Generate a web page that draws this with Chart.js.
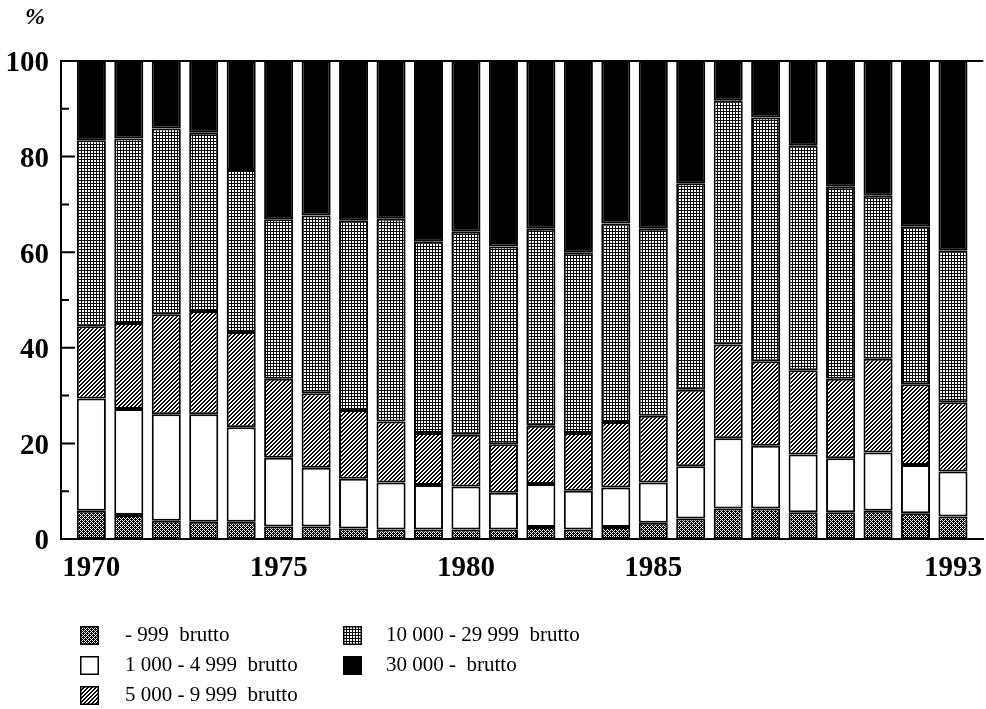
<!DOCTYPE html>
<html>
<head>
<meta charset="utf-8">
<script src="https://cdn.jsdelivr.net/npm/chart.js@4/dist/chart.umd.min.js"></script>
<style>
  html, body { margin: 0; padding: 0; background: #fff; }
  #wrap { position: relative; width: 986px; height: 709px; }
  #pct { position: absolute; left: 25px; top: 3px; font: italic bold 24px "Liberation Serif", serif; }
  .leg { position: absolute; font: 21px "Liberation Serif", serif; color: #000; white-space: pre; }
  .leg canvas { position: absolute; left: 0; top: 2px; }
  .leg span { position: absolute; top: -2px; }
</style>
</head>
<body>
<div id="wrap">
  <canvas id="bieudo"></canvas>
  <div id="pct">%</div>
</div>
<script>
// years on the x axis
const years = [1970, 1971, 1972, 1973, 1974, 1975, 1976, 1977, 1978, 1979, 1980, 1981,
               1982, 1983, 1984, 1985, 1986, 1987, 1988, 1989, 1990, 1991, 1992, 1993];
const xTickYears = [1970, 1975, 1980, 1985, 1993];

const seriesLabels = ['- 999  brutto', '1 000 - 4 999  brutto', '5 000 - 9 999  brutto',
                      '10 000 - 29 999  brutto', '30 000 -  brutto'];

// share (%) per size class
const upTo999 = [5.9, 5.0, 3.8, 3.6, 3.6, 2.6, 2.6, 2.2, 2.0, 2.0, 2.0, 2.0,
                 2.5, 2.0, 2.5, 3.4, 4.3, 6.4, 6.4, 5.6, 5.6, 5.9, 5.4, 4.7];
const from1000 = [23.5, 22.2, 22.3, 22.5, 19.8, 14.4, 12.3, 10.4, 9.8, 9.3, 9.0, 7.7,
                  9.0, 8.1, 8.3, 8.4, 10.9, 14.7, 13.1, 12.1, 11.3, 12.2, 10.1, 9.4];
const from5000 = [15.1, 18.0, 20.9, 21.6, 19.9, 16.5, 15.6, 14.4, 12.8, 10.9, 10.8, 10.1,
                  12.2, 12.1, 13.7, 14.0, 16.0, 19.6, 17.7, 17.6, 16.6, 19.6, 16.9, 14.5];
const from10000 = [38.9, 38.6, 38.9, 37.3, 33.9, 33.4, 37.2, 39.7, 42.4, 40.0, 42.5, 41.4,
                   41.2, 37.7, 41.5, 39.1, 43.2, 51.0, 51.0, 47.1, 40.2, 34.1, 32.9, 31.8];
const from30000 = [16.6, 16.2, 14.1, 15.0, 22.8, 33.1, 32.3, 33.3, 33.0, 37.8, 35.7, 38.8,
                   35.1, 40.1, 34.0, 35.1, 25.6, 8.3, 11.8, 17.6, 26.3, 28.2, 34.7, 39.6];

const yTicks = [0, 20, 40, 60, 80, 100];

// small tiles used as fills
function makePattern(size, isBlack) {
  const c = document.createElement('canvas');
  c.width = size; c.height = size;
  const g = c.getContext('2d');
  g.fillStyle = '#fff';
  g.fillRect(0, 0, size, size);
  g.fillStyle = '#000';
  for (let x = 0; x < size; x++) {
    for (let y = 0; y < size; y++) {
      if (isBlack(x, y)) g.fillRect(x, y, 1, 1);
    }
  }
  return g.createPattern(c, 'repeat');
}

const fills = [
  makePattern(4, (x, y) => !((x + y) % 4 === 0 || (x - y + 4) % 4 === 2)),
  '#fff',
  makePattern(4, (x, y) => (x + y) % 4 < 2),
  makePattern(3, (x, y) => x === 0 || y === 0),
  '#000'
];

const seriesValues = [upTo999, from1000, from5000, from10000, from30000];
const font = { family: '"Liberation Serif", serif', size: 29, weight: 'bold' };

// inward ticks on the left axis and a line along the top
const frame = {
  id: 'frame',
  afterDraw(chart) {
    const ctx = chart.ctx;
    const a = chart.chartArea;
    const ys = chart.scales.y;
    ctx.save();
    ctx.strokeStyle = '#000';
    ctx.lineWidth = 2;
    ctx.beginPath();
    for (let v = 0; v <= 100; v += 10) {
      const py = ys.getPixelForValue(v);
      ctx.moveTo(a.left, py);
      ctx.lineTo(a.left + (v % 20 === 0 ? 14 : 8), py);
    }
    ctx.moveTo(a.left - 1, a.top);
    ctx.lineTo(a.right, a.top);
    ctx.stroke();
    ctx.restore();
  }
};

const wrap = document.getElementById('wrap');
const canvas = document.getElementById('bieudo');
canvas.width = 986; canvas.height = 709;
canvas.style.width = '986px'; canvas.style.height = '709px';

new Chart(canvas.getContext('2d'), {
  type: 'bar',
  data: {
    datasets: seriesValues.map((vals, i) => ({
      label: seriesLabels[i],
      data: vals.map((v, j) => ({ x: years[j], y: v })),
      backgroundColor: fills[i],
      borderColor: '#000',
      borderWidth: 2,
      borderSkipped: false,
      categoryPercentage: 0.8,
      barPercentage: 0.97
    }))
  },
  options: {
    responsive: false,
    animation: false,
    layout: { padding: { top: 61, right: 1, left: 0, bottom: 0 } },
    plugins: { legend: { display: false }, tooltip: { enabled: false } },
    scales: {
      x: {
        type: 'linear',
        stacked: true,
        offset: false,
        min: 1969.19,
        max: 1993.81,
        afterBuildTicks: s => { s.ticks = xTickYears.map(v => ({ value: v })); },
        afterFit: s => { s.height = 170; },
        grid: { display: false, offset: false },
        border: { color: '#000', width: 2 },
        ticks: { autoSkip: false, maxRotation: 0, padding: 4, color: '#000', font: font,
                 callback: v => String(v) }
      },
      y: {
        stacked: true,
        min: 0,
        max: 100,
        afterBuildTicks: s => { s.ticks = yTicks.map(v => ({ value: v })); },
        afterFit: s => { s.width = 61; },
        grid: { display: false },
        border: { color: '#000', width: 2 },
        ticks: { padding: 4, labelOffset: 3, color: '#000', font: font }
      }
    }
  },
  plugins: [frame]
});

// legend, three entries in the first column and two in the second
const legPos = [[80, 624], [80, 654], [80, 684], [343, 624], [343, 654]];
seriesLabels.forEach((lab, i) => {
  const d = document.createElement('div');
  d.className = 'leg';
  d.style.left = legPos[i][0] + 'px';
  d.style.top = legPos[i][1] + 'px';
  const sw = document.createElement('canvas');
  sw.width = 19; sw.height = 19;
  const g = sw.getContext('2d');
  g.fillStyle = fills[i];
  g.fillRect(0, 0, 19, 19);
  g.strokeStyle = '#000';
  g.lineWidth = 1.5;
  g.strokeRect(0.75, 0.75, 17.5, 17.5);
  const t = document.createElement('span');
  t.style.left = (i < 3 ? 45 : 43) + 'px';
  t.textContent = lab;
  d.appendChild(sw);
  d.appendChild(t);
  wrap.appendChild(d);
});
</script>
</body>
</html>
